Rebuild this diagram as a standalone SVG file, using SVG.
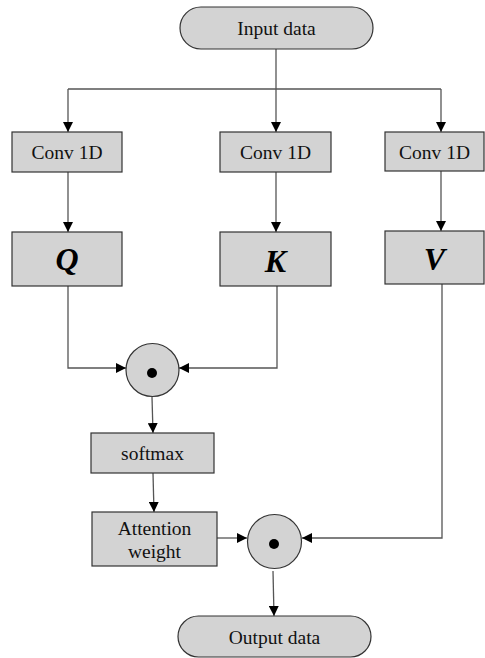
<svg xmlns="http://www.w3.org/2000/svg" width="485" height="658" viewBox="0 0 485 658">
<defs>
<marker id="arr" viewBox="0 0 10 10" refX="10" refY="5" markerWidth="10" markerHeight="10" markerUnits="userSpaceOnUse" orient="auto">
<path d="M0,0 L10,5 L0,10 Z" fill="#000"/>
</marker>
</defs>
<style>
.box{fill:#d3d3d3;stroke:#333;stroke-width:1.2}
.t{font-family:"Liberation Serif","Times New Roman",serif;font-size:19.5px;fill:#111;text-anchor:middle}
.b{font-family:"Liberation Serif","Times New Roman",serif;font-size:32px;font-weight:bold;font-style:italic;fill:#000;text-anchor:middle}
.c{fill:none;stroke:#555;stroke-width:1.3}
.ca{fill:none;stroke:#555;stroke-width:1.3;marker-end:url(#arr)}
</style>
<rect width="485" height="658" fill="#fff"/>
<g id="connectors">
<path class="c" d="M276,49 V89"/>
<path class="c" d="M68,89 H441"/>
<path class="ca" d="M68,89 V132"/>
<path class="ca" d="M276,89 V132"/>
<path class="ca" d="M441,89 V132"/>
<path class="ca" d="M68,172 V232"/>
<path class="ca" d="M276,172 V232"/>
<path class="ca" d="M441,171 V231"/>
<path class="ca" d="M68,286 V368 H126"/>
<path class="ca" d="M277,286 V368 H179"/>
<path class="ca" d="M152,397 L153,433"/>
<path class="ca" d="M153,473 L154,512"/>
<path class="ca" d="M217,538 H247"/>
<path class="ca" d="M442,284 V538 H302"/>
<path class="ca" d="M273,571 L274,616"/>
</g>
<g id="input">
<rect class="box" x="180" y="7" width="193" height="42" rx="21"/>
<text class="t" x="276.5" y="35">Input data</text>
</g>
<g id="conv1">
<rect class="box" x="12" y="132" width="110" height="40"/>
<text class="t" x="67" y="158.5">Conv 1D</text>
</g>
<g id="conv2">
<rect class="box" x="220" y="132" width="111" height="40"/>
<text class="t" x="275.5" y="158.5">Conv 1D</text>
</g>
<g id="conv3">
<rect class="box" x="385" y="132" width="99" height="39"/>
<text class="t" x="434.5" y="158.5">Conv 1D</text>
</g>
<g id="Q">
<rect class="box" x="12" y="232" width="110" height="54"/>
<text class="b" x="67" y="270">Q</text>
</g>
<g id="K">
<rect class="box" x="220" y="232" width="111" height="54"/>
<text class="b" x="275.5" y="272">K</text>
</g>
<g id="V">
<rect class="box" x="385" y="231" width="99" height="53"/>
<text class="b" x="434.5" y="270">V</text>
</g>
<g id="dot1">
<circle class="box" cx="152.5" cy="370" r="26.5"/>
<circle cx="152" cy="373" r="5" fill="#000"/>
</g>
<g id="softmax">
<rect class="box" x="91" y="433" width="123" height="40"/>
<text class="t" x="152.5" y="459.5">softmax</text>
</g>
<g id="attention">
<rect class="box" x="92" y="512" width="125" height="54"/>
<text class="t" x="154.5" y="534.5">Attention</text>
<text class="t" x="154.5" y="557.5">weight</text>
</g>
<g id="dot2">
<circle class="box" cx="274.5" cy="541.5" r="27"/>
<circle cx="274" cy="544" r="5" fill="#000"/>
</g>
<g id="output">
<rect class="box" x="178" y="616" width="193" height="41" rx="20.5"/>
<text class="t" x="274.5" y="643.5">Output data</text>
</g>
</svg>
